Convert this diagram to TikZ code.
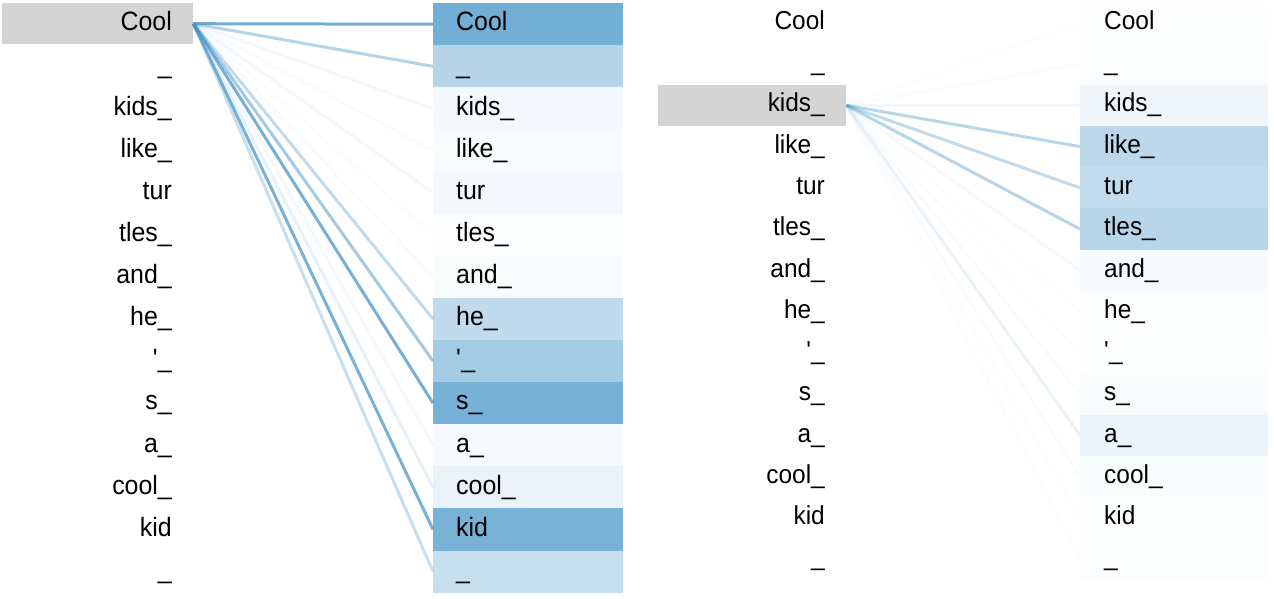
\documentclass[tikz,border=0pt]{standalone}
\usepackage{fontspec}
\setmainfont{Liberation Sans}[FakeStretch=0.94]
\definecolor{att}{HTML}{4292C6}
\definecolor{srcgray}{HTML}{D4D4D4}
\begin{document}
\begin{tikzpicture}[x=1pt,y=-1pt,
  tok/.style={inner sep=0pt, font=\fontsize{26.5}{30}\selectfont, text=black},
  tokb/.style={inner sep=0pt, font=\fontsize{26}{30}\selectfont, text=black},
  cell/.style={rectangle, inner sep=0pt, anchor=north west, draw=none},
  srcbox/.style={rectangle, inner sep=0pt, anchor=north west, fill=srcgray, draw=none},
  attline/.style={draw=att, line width=3pt}]
\useasboundingbox (0,0) rectangle (1274,599);
\fill[white] (0,0) rectangle (1274,599);

% ---------- left panel ----------
\node[srcbox, minimum width=191pt, minimum height=41pt] (srcA) at (2,3) {};
\foreach \t/\a [count=\i from 0] in {Cool/0.74, \_/0.39, kids\_/0.06, like\_/0.03, tur/0.06, tles\_/0.02, and\_/0.03, he\_/0.33, \textquotesingle\_/0.48, s\_/0.72, a\_/0.05, cool\_/0.12, kid/0.71, \_/0.29}{
  \pgfmathsetmacro\rtop{3+42.1*\i}
  \pgfmathsetmacro\pct{\a*100}
  \node[cell, fill=att!\pct!white, minimum width=190pt, minimum height=42.1pt] (A\i) at (433,\rtop) {};
  \node[tok, anchor=base east] (LA\i) at (172,{\rtop+28}) {\t};
  \node[tok, anchor=base west] (RA\i) at (456,{\rtop+28}) {\t};
  \draw[attline, draw opacity=\a] (srcA.east) -- (A\i.west);
}

% ---------- right panel ----------
\node[srcbox, minimum width=188pt, minimum height=41.25pt] (srcB) at (658,84.5) {};
\foreach \t/\a [count=\i from 0] in {Cool/0.01, \_/0.02, kids\_/0.08, like\_/0.36, tur/0.32, tles\_/0.38, and\_/0.04, he\_/0.015, \textquotesingle\_/0.01, s\_/0.03, a\_/0.10, cool\_/0.03, kid/0.015, \_/0.015}{
  \pgfmathsetmacro\rtop{2+41.25*\i}
  \pgfmathsetmacro\pct{\a*100}
  \node[cell, fill=att!\pct!white, minimum width=188pt, minimum height=41.25pt] (B\i) at (1080,\rtop) {};
  \node[tokb, anchor=base east] (LB\i) at (825,{\rtop+27.5}) {\t};
  \node[tokb, anchor=base west] (RB\i) at (1104,{\rtop+27.5}) {\t};
  \draw[attline, draw opacity=\a] (srcB.east) -- (B\i.west);
}
\end{tikzpicture}
\end{document}
